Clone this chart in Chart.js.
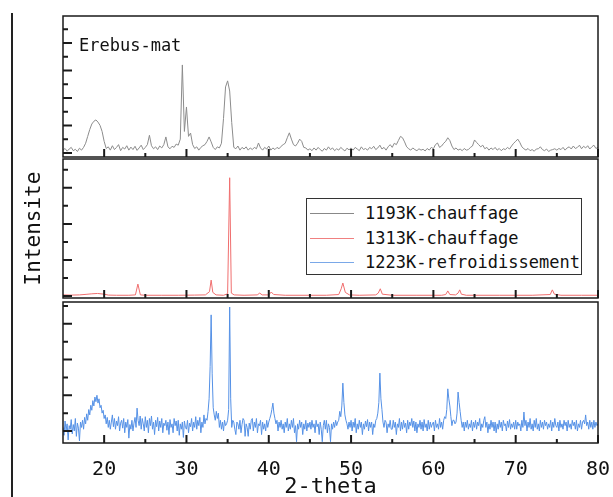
<!DOCTYPE html>
<html lang="fr">
<head>
<meta charset="UTF-8" />
<title>DRX Erebus-mat</title>
<script src="https://cdn.jsdelivr.net/npm/chart.js"></script>
<style>
  body { margin: 0; background: #fff; }
  #wrap { position: relative; width: 613px; height: 497px; overflow: hidden; font-family: "DejaVu Sans Mono", monospace; color: #111; }
  canvas { position: absolute; left: 0; top: 0; }
  #leftLine { position: absolute; left: 11px; top: 13px; width: 2px; height: 484px; background: #222; }
  #sample { position: absolute; left: 79px; top: 35px; font-size: 17px; line-height: 20px; }
  #legend { position: absolute; left: 306px; top: 198px; width: 274px; height: 75px; border: 1px solid #333; background: #fff; font-size: 17px; }
  .row { position: absolute; left: 0; height: 20px; display: flex; align-items: center; white-space: nowrap; }
  .row .l { display: inline-block; width: 44px; height: 1px; margin-left: 3px; margin-right: 11px; }
</style>
</head>
<body>
<div id="wrap">
  <canvas id="top" width="613" height="497"></canvas>
  <canvas id="mid" width="613" height="497"></canvas>
  <canvas id="bot" width="613" height="497"></canvas>
  <div id="leftLine"></div>
  <div id="sample">Erebus-mat</div>
  <div id="legend">
    <div class="row" style="top:4px"><span class="l" style="background:#888"></span>1193K-chauffage</div>
    <div class="row" style="top:29px"><span class="l" style="background:#f08080"></span>1313K-chauffage</div>
    <div class="row" style="top:53px"><span class="l" style="background:#7aa8e8"></span>1223K-refroidissement</div>
  </div>
</div>
<script>
  // grilles 2-theta (15 -> 80): pas de 0.25 deg (haut) et 0.125 deg (bas)
  const grid = Array.from({ length: 261 }, (_, i) => 15 + i * 0.25);
  const gridFine = Array.from({ length: 521 }, (_, i) => 15 + i * 0.125);

  // Erebus-mat (panneau du haut), 20 valeurs par ligne = 5 deg
  const erebusMat = [
    0.10,0.16,0.06,0.14,0.20,0.08,0.13,0.05,0.17,0.10,0.20,0.35,0.60,0.85,1.05,1.15,1.20,1.12,1.00,0.78,
    0.42,0.16,0.22,0.10,0.26,0.12,0.20,0.30,0.08,0.20,0.14,0.26,0.10,0.21,0.12,0.24,0.09,0.18,0.28,0.12,
    0.20,0.30,0.64,0.26,0.15,0.22,0.12,0.25,0.18,0.30,0.58,0.22,0.15,0.24,0.20,0.32,0.28,0.50,3.20,0.78,
    1.67,0.60,0.72,0.30,0.16,0.22,0.10,0.20,0.26,0.30,0.42,0.58,0.40,0.20,0.12,0.22,0.18,0.35,1.25,2.40,
    2.62,2.25,1.10,0.20,0.15,0.25,0.10,0.20,0.14,0.22,0.10,0.18,0.12,0.20,0.15,0.36,0.18,0.10,0.20,0.14,
    0.25,0.10,0.18,0.12,0.20,0.15,0.24,0.30,0.35,0.55,0.73,0.50,0.30,0.25,0.35,0.50,0.42,0.20,0.18,0.10,
    0.15,0.08,0.18,0.10,0.20,0.12,0.06,0.16,0.10,0.22,0.12,0.18,0.08,0.15,0.10,0.20,0.13,0.07,0.17,0.11,
    0.18,0.10,0.20,0.14,0.08,0.22,0.12,0.16,0.10,0.20,0.15,0.24,0.12,0.18,0.28,0.14,0.20,0.10,0.22,0.30,
    0.20,0.35,0.30,0.45,0.60,0.55,0.40,0.22,0.15,0.10,0.18,0.12,0.08,0.15,0.10,0.13,0.07,0.16,0.10,0.20,
    0.15,0.30,0.36,0.20,0.25,0.35,0.42,0.55,0.45,0.25,0.12,0.18,0.10,0.14,0.08,0.16,0.10,0.12,0.20,0.25,
    0.47,0.38,0.30,0.22,0.28,0.15,0.20,0.10,0.18,0.12,0.20,0.10,0.16,0.08,0.15,0.12,0.20,0.14,0.25,0.35,
    0.42,0.50,0.38,0.22,0.15,0.10,0.16,0.08,0.12,0.06,0.14,0.15,0.22,0.12,0.08,0.14,0.05,0.10,0.12,0.15,
    0.10,0.16,0.12,0.20,0.10,0.18,0.22,0.14,0.25,0.16,0.20,0.28,0.15,0.24,0.18,0.26,0.14,0.22,0.28,0.16,
    0.20
  ];

  // 1313K-chauffage (panneau du milieu)
  const chauf1313X = [15, 16, 17, 17.8, 18.5, 19.2, 20, 20.5, 21.5, 23, 23.8, 24.1, 24.4, 25, 27, 29, 31, 32.3, 32.8, 33.0, 33.2, 33.6,
    34.5, 35.0, 35.25, 35.45, 35.8, 37, 38.6, 38.9, 39.2, 40.0, 40.3, 40.6, 42, 45, 47, 48.5, 48.8, 49.0, 49.3, 49.8, 51, 53, 53.3, 53.55,
    53.8, 55, 58, 61, 61.5, 61.75, 62.0, 62.7, 63.0, 63.2, 63.4, 64, 68, 72, 74.2, 74.45, 74.7, 75.5, 78, 80];
  const chauf1313Y = [0.03, 0.025, 0.03, 0.045, 0.06, 0.07, 0.05, 0.025, 0.02, 0.02, 0.03, 0.33, 0.03, 0.02, 0.02, 0.02, 0.025, 0.03, 0.12, 0.44, 0.1, 0.03,
    0.02, 0.06, 3.28, 0.08, 0.03, 0.02, 0.03, 0.08, 0.03, 0.03, 0.11, 0.04, 0.02, 0.02, 0.02, 0.04, 0.2, 0.36, 0.1, 0.03, 0.02, 0.03, 0.08, 0.2,
    0.05, 0.02, 0.02, 0.02, 0.04, 0.14, 0.04, 0.03, 0.08, 0.17, 0.05, 0.02, 0.02, 0.02, 0.04, 0.17, 0.05, 0.02, 0.02, 0.02];

  // 1223K-refroidissement (panneau du bas), 40 valeurs par ligne = 5 deg
  const refroid1223 = [
    0.10,-0.12,0.28,0.02,0.20,-0.25,0.15,0.05,0.32,-0.08,0.18,0.00,0.35,-0.15,0.22,0.08,-0.28,0.25,0.10,0.30,
    0.05,0.38,0.20,0.48,0.30,0.60,0.45,0.72,0.58,0.85,0.70,0.95,0.82,1.00,0.78,0.90,0.65,0.72,0.50,0.58,
    0.35,0.45,0.20,0.38,0.10,0.30,0.05,0.25,0.45,0.12,0.35,0.05,0.28,0.15,0.40,0.00,0.22,0.30,0.08,0.35,
    -0.05,0.25,0.10,0.32,-0.20,0.18,0.05,0.30,0.00,0.22,0.38,0.10,0.64,0.30,0.15,0.42,0.05,0.35,0.20,0.00,
    0.40,0.10,0.30,-0.05,0.35,0.15,0.42,0.05,0.25,-0.10,0.30,0.12,0.38,0.00,0.28,0.10,0.35,-0.05,0.22,0.15,
    0.30,0.02,0.25,-0.10,0.32,0.10,0.20,-0.05,0.35,0.15,0.28,0.00,0.30,-0.12,0.20,0.05,0.25,-0.18,0.28,0.10,
    0.05,0.30,-0.05,0.22,0.12,0.35,0.00,0.25,0.10,0.40,0.05,0.30,0.15,0.38,-0.05,0.25,0.10,0.45,0.20,0.35,
    0.30,0.55,0.90,1.80,3.25,1.60,0.65,0.45,0.30,0.55,0.35,0.50,0.10,0.30,0.05,0.25,0.00,0.30,0.15,0.20,
    0.30,0.60,3.47,0.90,0.10,0.30,0.25,0.05,-0.10,0.25,0.20,0.05,0.30,-0.05,0.18,0.35,0.30,-0.15,0.20,0.10,
    -0.15,0.22,0.05,0.30,0.35,0.00,0.25,0.10,0.35,-0.05,0.20,0.15,0.30,-0.10,0.25,0.05,0.20,0.00,0.30,0.10,
    0.25,0.35,0.45,0.60,0.78,0.50,0.35,0.20,0.30,0.00,0.25,0.10,0.30,0.05,0.20,-0.05,0.25,0.10,0.35,0.00,
    0.20,0.05,0.30,0.10,0.35,-0.05,0.15,-0.30,0.20,0.05,0.30,0.10,0.25,-0.10,0.20,0.05,0.30,0.00,0.22,0.10,
    0.25,0.05,0.30,0.10,0.20,-0.05,0.30,0.12,0.20,-0.10,0.25,0.05,-0.30,0.15,0.30,0.05,0.30,-0.05,0.20,0.10,
    -0.30,0.20,0.05,0.25,0.10,0.30,0.15,0.25,0.30,0.55,0.40,0.70,1.34,0.80,0.45,0.30,0.20,0.05,0.25,0.10,
    0.30,0.00,0.25,0.10,0.35,-0.05,0.20,0.05,0.30,0.10,0.25,-0.10,0.20,0.05,0.28,0.12,0.32,0.00,0.25,0.10,
    0.25,-0.10,0.20,0.10,0.30,0.35,0.50,0.80,1.62,0.90,0.60,0.25,0.10,0.30,0.25,-0.05,0.20,0.10,0.30,0.05,
    0.05,0.30,0.10,0.25,-0.10,0.20,0.10,0.35,0.00,0.25,0.05,0.30,0.10,0.22,-0.05,0.30,0.05,0.25,0.15,0.35,
    0.10,0.28,0.00,0.25,-0.05,0.20,0.10,0.30,0.05,0.25,0.00,0.32,0.10,0.20,0.00,0.30,0.05,0.25,0.10,0.20,
    0.25,0.00,0.30,0.10,0.20,0.05,0.35,0.10,0.25,0.05,0.30,0.40,0.35,0.60,1.18,0.90,0.70,0.40,0.15,0.30,
    0.30,0.20,0.25,0.50,1.09,0.80,0.55,0.30,0.10,0.25,0.00,0.25,0.10,0.30,0.05,0.20,0.10,0.30,0.00,0.25,
    0.10,0.30,0.05,0.25,0.15,0.35,0.00,0.20,0.10,0.30,0.40,0.10,0.25,-0.05,0.20,0.05,0.30,0.10,0.25,0.00,
    0.25,-0.05,0.20,0.05,0.30,0.10,0.25,0.00,0.30,0.15,0.20,0.00,0.28,0.10,0.32,0.05,0.20,0.10,0.25,0.05,
    0.30,0.05,0.25,0.15,0.20,0.00,0.30,0.10,0.53,0.15,0.30,0.00,0.25,0.10,0.35,0.05,0.20,0.00,0.30,0.10,
    0.35,0.05,0.20,0.00,0.30,0.10,0.25,0.05,0.30,0.15,0.25,0.05,0.20,0.10,0.30,0.00,0.25,0.10,0.35,0.15,
    0.10,0.25,0.00,0.30,0.10,0.20,0.05,0.30,0.15,0.25,0.00,0.30,0.10,0.20,0.05,0.30,0.15,0.25,0.05,0.30,
    0.00,0.20,0.10,0.30,0.05,0.25,0.30,0.20,0.45,0.15,0.25,0.05,0.30,0.10,0.25,0.05,0.30,0.10,0.25,0.15,
    0.20
  ];

  const xMajor = [20, 30, 40, 50, 60, 70, 80];
  const xMinor = [25, 35, 45, 55, 65, 75];
  const yMajorTop = [0, 1, 2, 3, 4];
  const yMinorTop = [0.5, 1.5, 2.5, 3.5, 4.5];
  const yMajor = [0, 1, 2, 3];
  const yMinor = [0.5, 1.5, 2.5, 3.5];

  // cadre + graduations vers l'interieur
  const cadre = {
    id: 'cadre',
    afterDatasetsDraw(chart, args, opts) {
      const { ctx, chartArea: a, scales: { x, y } } = chart;
      ctx.save();
      ctx.strokeStyle = '#1a1a1a';
      ctx.lineWidth = 2;
      ctx.beginPath();
      xMajor.forEach(v => { const px = x.getPixelForValue(v); ctx.moveTo(px, a.bottom); ctx.lineTo(px, a.bottom - 8); });
      xMinor.forEach(v => { const px = x.getPixelForValue(v); ctx.moveTo(px, a.bottom); ctx.lineTo(px, a.bottom - 4); });
      opts.major.forEach(v => { const py = y.getPixelForValue(v); ctx.moveTo(a.left, py); ctx.lineTo(a.left + 9, py); });
      opts.minor.forEach(v => { const py = y.getPixelForValue(v); ctx.moveTo(a.left, py); ctx.lineTo(a.left + 5, py); });
      ctx.stroke();
      ctx.lineWidth = 1.5;
      ctx.strokeRect(a.left, a.top, a.right - a.left, a.bottom - a.top);
      ctx.restore();
    }
  };

  // top/bottom: bords du cadre en pixels (gauche 63, droite 598 pour tous)
  function panel(id, data, color, yMin, yMax, major, minor, top, bottom, showLabels, yTitle) {
    return new Chart(document.getElementById(id), {
      type: 'line',
      data: { datasets: [{ data: data, borderColor: color, borderWidth: 1, pointRadius: 0, tension: 0 }] },
      options: {
        responsive: false,
        animation: false,
        devicePixelRatio: 1,
        layout: { padding: { left: 0, right: 15, top: top, bottom: 0 } },
        plugins: { legend: { display: false }, tooltip: { enabled: false }, cadre: { major: major, minor: minor } },
        scales: {
          x: {
            type: 'linear', min: 15, max: 80,
            grid: { display: false, drawTicks: false },
            border: { display: false },
            afterBuildTicks: s => { s.ticks = xMajor.map(v => ({ value: v })); },
            afterFit: s => { s.height = 497 - bottom; s.paddingLeft = 0; s.paddingRight = 0; },
            ticks: { display: showLabels, maxRotation: 0, color: '#111', padding: 15,
                     font: { family: 'DejaVu Sans Mono', size: 20 } },
            title: { display: showLabels, text: '2-theta', color: '#111', padding: { top: 0, bottom: -3 },
                     font: { family: 'DejaVu Sans Mono', size: 22 } }
          },
          y: {
            min: yMin, max: yMax,
            grid: { display: false, drawTicks: false },
            border: { display: false },
            ticks: { display: false },
            afterFit: s => { s.width = 63; s.paddingTop = 0; s.paddingBottom = 0; },
            title: { display: !!yTitle, text: yTitle || '', color: '#111', padding: { top: 22, bottom: 0 },
                     font: { family: 'DejaVu Sans Mono', size: 21 } }
          }
        }
      },
      plugins: [cadre]
    });
  }

  panel('top', grid.map((x, i) => ({ x: x, y: erebusMat[i] })), 'rgb(140,140,140)',
        -0.15, 4.98, yMajorTop, yMinorTop, 16, 157, false);
  panel('mid', chauf1313X.map((x, i) => ({ x: x, y: chauf1313Y[i] })), 'rgb(240,110,110)',
        -0.056, 3.8, yMajor, yMinor, 159, 298, false, 'Intensite');
  panel('bot', gridFine.map((x, i) => ({ x: x, y: refroid1223[i] })), 'rgb(85,145,230)',
        -0.336, 3.61, yMajor, yMinor, 302, 443, true);
</script>
</body>
</html>
